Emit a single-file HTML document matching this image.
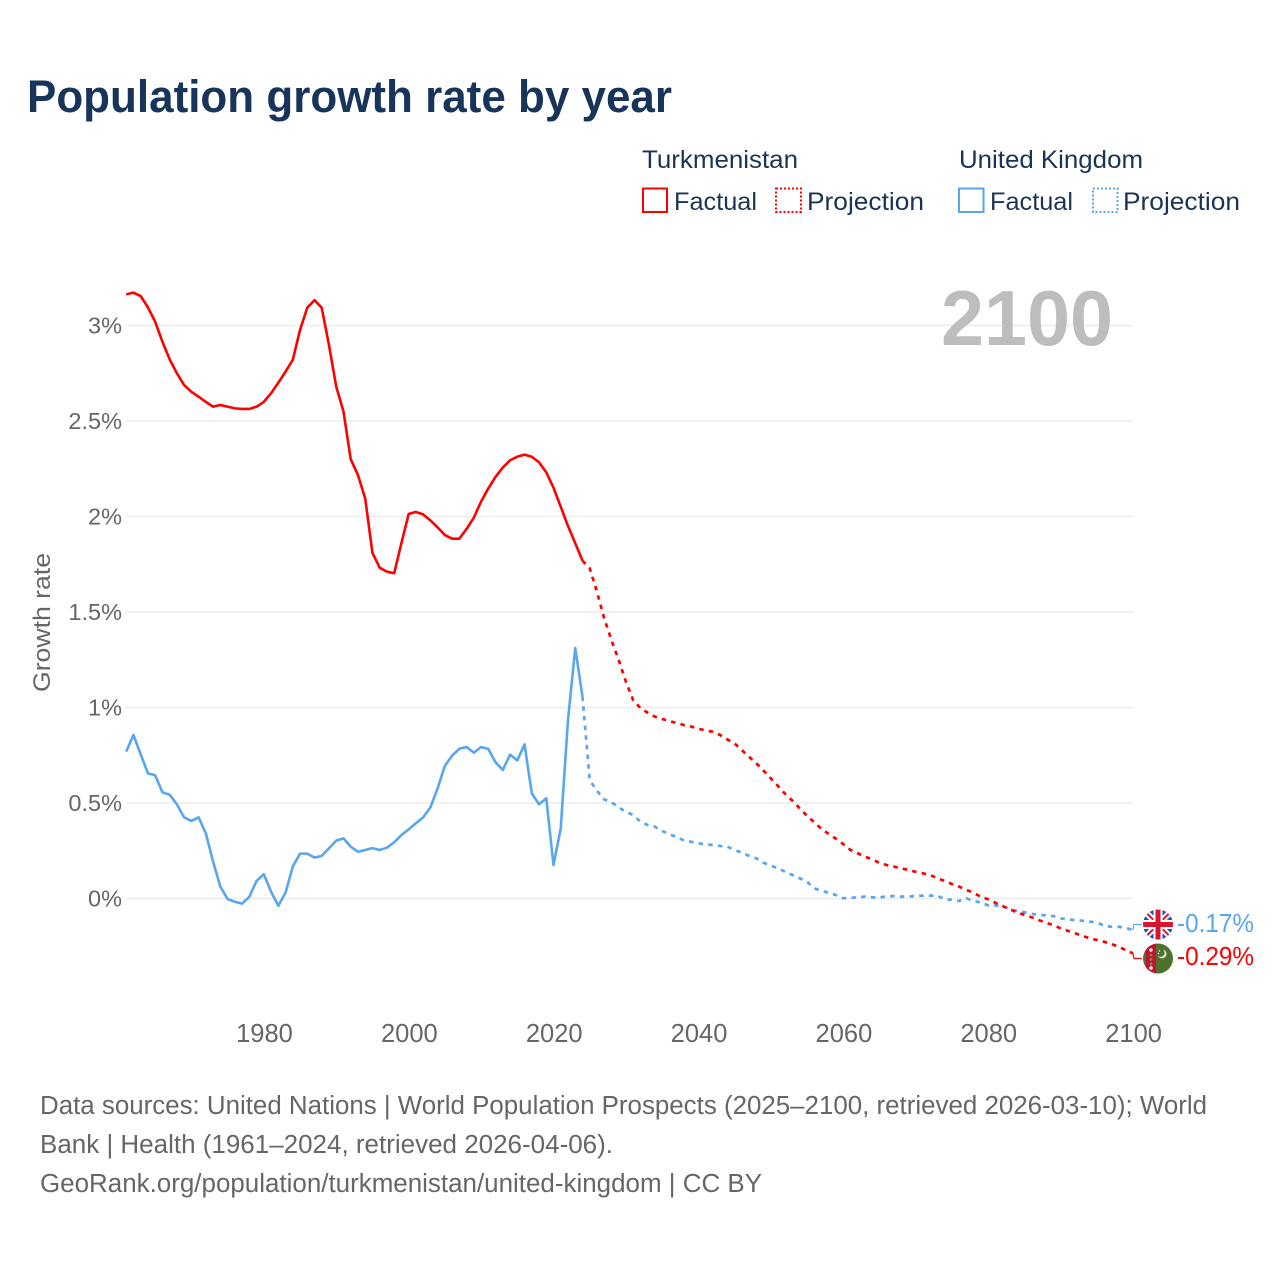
<!DOCTYPE html>
<html lang="en">
<head>
<meta charset="utf-8">
<title>Population growth rate by year</title>
<style>
html,body{margin:0;padding:0;background:#fff;}
svg{display:block;}
text{font-family:"Liberation Sans",sans-serif;}
</style>
</head>
<body>
<svg id="chart" xmlns="http://www.w3.org/2000/svg" width="1280" height="1280" viewBox="0 0 1280 1280">
  <defs>
    <clipPath id="flag-clip-uk"><circle cx="1158" cy="924.5" r="15"/></clipPath>
    <clipPath id="flag-clip-tm"><circle cx="1158" cy="958.5" r="15"/></clipPath>
  </defs>
  <rect x="0" y="0" width="1280" height="1280" fill="#fff"/>

  <text x="27" y="112" font-size="45" font-weight="700" fill="#17345a" textLength="645" lengthAdjust="spacingAndGlyphs">Population growth rate by year</text>

  <g font-size="25" fill="#1a3554">
    <text x="642" y="168" textLength="156" lengthAdjust="spacingAndGlyphs">Turkmenistan</text>
    <text x="959" y="168" textLength="184" lengthAdjust="spacingAndGlyphs">United Kingdom</text>
    <rect x="643" y="188.5" width="24" height="23.5" fill="none" stroke="#ff0000" stroke-width="2"/>
    <text x="674" y="210" textLength="83" lengthAdjust="spacingAndGlyphs">Factual</text>
    <rect x="776" y="188.5" width="25" height="23.5" fill="none" stroke="#ff0000" stroke-width="2" stroke-dasharray="2 2"/>
    <text x="807" y="210" textLength="117" lengthAdjust="spacingAndGlyphs">Projection</text>
    <rect x="959" y="188.5" width="24.5" height="23.5" fill="none" stroke="#5aa6ee" stroke-width="2"/>
    <text x="990" y="210" textLength="83" lengthAdjust="spacingAndGlyphs">Factual</text>
    <rect x="1093" y="188.5" width="24.5" height="23.5" fill="none" stroke="#5aa6ee" stroke-width="2" stroke-dasharray="2 2"/>
    <text x="1123" y="210" textLength="117" lengthAdjust="spacingAndGlyphs">Projection</text>
  </g>

  <g id="grid"></g>
  <g id="y-ticks"></g>
  <g id="x-ticks"></g>

  <text transform="translate(50,622.5) rotate(-90)" text-anchor="middle" font-size="24" fill="#666" textLength="139" lengthAdjust="spacingAndGlyphs">Growth rate</text>

  <text x="1113" y="345" text-anchor="end" font-size="78" font-weight="700" fill="#bdbdbd" textLength="172" lengthAdjust="spacingAndGlyphs">2100</text>

  <g id="series"></g>

  <g clip-path="url(#flag-clip-uk)">
    <rect x="1143" y="909.5" width="30" height="30" fill="#1457b0"/>
    <path d="M1143 909.5L1173 939.5M1173 909.5L1143 939.5" stroke="#fff" stroke-width="6"/>
    <path d="M1143 909.5L1173 939.5M1173 909.5L1143 939.5" stroke="#d8142e" stroke-width="2"/>
    <path d="M1158 909.5V939.5M1143 924.5H1173" stroke="#fff" stroke-width="9"/>
    <path d="M1158 909.5V939.5M1143 924.5H1173" stroke="#d8142e" stroke-width="5"/>
  </g>
  <g clip-path="url(#flag-clip-tm)">
    <rect x="1143" y="943.5" width="30" height="30" fill="#4f7130"/>
    <rect x="1146" y="943.5" width="10" height="30" fill="#c8102e"/>
    <circle cx="1151" cy="950" r="1.8" fill="#eee"/>
    <circle cx="1151" cy="955" r="1.5" fill="#6d8a4f"/>
    <circle cx="1151" cy="959.5" r="1.5" fill="#6d8a4f"/>
    <circle cx="1151" cy="964" r="1.5" fill="#6d8a4f"/>
    <circle cx="1151" cy="968" r="1.8" fill="#eee"/>
    <path d="M1163 949.5a4.5 4.5 0 1 1-5 6.5a4 4 0 0 0 5-6.5z" fill="#dfe6d6"/>
    <circle cx="1159.5" cy="951" r="0.8" fill="#eee"/>
    <circle cx="1158.5" cy="953.5" r="0.8" fill="#eee"/>
  </g>

  <text x="1177" y="932" font-size="25.5" fill="#5aa6ee" textLength="77" lengthAdjust="spacingAndGlyphs">-0.17%</text>
  <text x="1177" y="965" font-size="25.5" fill="#ff0000" textLength="77" lengthAdjust="spacingAndGlyphs">-0.29%</text>

  <g font-size="25.5" fill="#666">
    <text x="40" y="1114" textLength="1167" lengthAdjust="spacingAndGlyphs">Data sources: United Nations | World Population Prospects (2025–2100, retrieved 2026-03-10); World</text>
    <text x="40" y="1153" textLength="573" lengthAdjust="spacingAndGlyphs">Bank | Health (1961–2024, retrieved 2026-04-06).</text>
    <text x="40" y="1192" textLength="722" lengthAdjust="spacingAndGlyphs">GeoRank.org/population/turkmenistan/united-kingdom | CC BY</text>
  </g>
</svg>
<script>
const xTickYears = [1980, 2000, 2020, 2040, 2060, 2080, 2100];
const yTickValues = [0, 0.5, 1, 1.5, 2, 2.5, 3];
const yTickLabels = ["0%", "0.5%", "1%", "1.5%", "2%", "2.5%", "3%"];

const factualFirstYear = 1961;
const projectionFirstYear = 2024;

const turkmenistanFactual = [
  3.163,3.172,3.154,3.095,3.02,2.915,2.823,2.75,2.688,2.653,
  2.627,2.6,2.575,2.584,2.575,2.566,2.563,2.563,2.575,2.6,
  2.645,2.7,2.758,2.82,2.976,3.093,3.133,3.093,2.897,2.68,
  2.55,2.3,2.217,2.095,1.81,1.732,1.711,1.703,1.86,2.013,
  2.024,2.011,1.98,1.943,1.903,1.884,1.884,1.935,1.994,2.078,
  2.147,2.208,2.256,2.294,2.313,2.324,2.313,2.284,2.231,2.151,
  2.051,1.95,1.86,1.769
];
const turkmenistanProjection = [
  1.769,1.729,1.606,1.467,1.353,1.249,1.135,1.039,0.997,0.973,0.952,
  0.94,0.929,0.919,0.908,0.9,0.889,0.88,0.873,0.856,0.833,
  0.812,0.777,0.742,0.708,0.669,0.629,0.589,0.547,0.512,0.472,
  0.433,0.399,0.364,0.338,0.313,0.285,0.254,0.237,0.219,0.205,
  0.187,0.175,0.167,0.158,0.149,0.14,0.132,0.123,0.106,0.092,
  0.076,0.062,0.045,0.03,0.009,-0.004,-0.022,-0.039,-0.057,-0.072,
  -0.086,-0.098,-0.113,-0.127,-0.139,-0.156,-0.169,-0.182,-0.195,-0.208,
  -0.217,-0.226,-0.238,-0.252,-0.27,-0.287
];
const ukFactual = [
  0.769,0.856,0.755,0.655,0.645,0.556,0.543,0.493,0.425,0.406,
  0.425,0.341,0.193,0.062,-0.003,-0.017,-0.027,0.009,0.092,0.127,
  0.036,-0.038,0.03,0.167,0.235,0.235,0.214,0.223,0.263,0.303,
  0.315,0.271,0.245,0.254,0.264,0.254,0.266,0.294,0.332,0.362,
  0.394,0.425,0.477,0.577,0.695,0.748,0.784,0.793,0.763,0.793,
  0.783,0.713,0.673,0.753,0.723,0.807,0.551,0.493,0.525,0.175,
  0.367,0.935,1.311,1.057
];
const ukProjection = [
  1.057,0.62,0.564,0.519,0.504,0.477,0.454,0.437,0.402,0.385,0.376,
  0.353,0.338,0.32,0.305,0.297,0.289,0.284,0.28,0.275,0.271,
  0.254,0.24,0.223,0.21,0.187,0.172,0.158,0.14,0.123,0.106,
  0.088,0.053,0.041,0.03,0.018,0.001,0.004,0.006,0.01,0.006,
  0.006,0.01,0.013,0.01,0.01,0.013,0.015,0.015,0.015,-0.004,
  -0.007,-0.013,0.001,-0.013,-0.02,-0.036,-0.036,-0.039,-0.057,-0.065,
  -0.072,-0.08,-0.086,-0.088,-0.092,-0.104,-0.109,-0.113,-0.116,-0.121,
  -0.125,-0.142,-0.148,-0.148,-0.154,-0.165
];

const NS = 'http://www.w3.org/2000/svg';
const RED = '#ff0000';
const BLUE = '#5aa6ee';

function xScale(year) { return 263.8 + (year - 1980) * 7.2425; }
function yScale(value) { return 898.5 - value * 191; }

function linePath(values, firstYear) {
  return values.map(function (v, i) {
    return (i ? 'L' : 'M') + xScale(firstYear + i).toFixed(2) + ' ' + yScale(v).toFixed(2);
  }).join('');
}

const gridGroup = document.getElementById('grid');
const yTickGroup = document.getElementById('y-ticks');
const xTickGroup = document.getElementById('x-ticks');
const seriesGroup = document.getElementById('series');

yTickValues.forEach(function (v, i) {
  const line = document.createElementNS(NS, 'line');
  
  
  line.setAttribute('x1', 126);
  line.setAttribute('x2', 1133);
  line.setAttribute('y1', yScale(v));
  line.setAttribute('y2', yScale(v));
  line.setAttribute('stroke', '#ececec');
  line.setAttribute('stroke-width', 1.5);
  gridGroup.appendChild(line);

  const label = document.createElementNS(NS, 'text');
  
  
  label.setAttribute('x', 122);
  label.setAttribute('y', yScale(v) + 8);
  label.setAttribute('text-anchor', 'end');
  label.setAttribute('font-size', 23.5);
  label.setAttribute('fill', '#666');
  label.textContent = yTickLabels[i];
  yTickGroup.appendChild(label);
});

xTickYears.forEach(function (year) {
  const label = document.createElementNS(NS, 'text');
  
  
  label.setAttribute('x', xScale(year) + 0.7);
  label.setAttribute('y', 1042);
  label.setAttribute('text-anchor', 'middle');
  label.setAttribute('font-size', 25.5);
  label.setAttribute('fill', '#666');
  label.textContent = String(year);
  xTickGroup.appendChild(label);
});

function addProjection(values, color, name) {
  const p = document.createElementNS(NS, 'path');
  
  
  p.setAttribute('d', linePath(values, projectionFirstYear));
  p.setAttribute('fill', 'none');
  p.setAttribute('stroke', color);
  p.setAttribute('stroke-width', 2.7);
  p.setAttribute('stroke-dasharray', '4.5 5.2');
  seriesGroup.appendChild(p);
}
function addFactual(values, color, name) {
  const p = document.createElementNS(NS, 'path');
  
  
  p.setAttribute('d', linePath(values, factualFirstYear));
  p.setAttribute('fill', 'none');
  p.setAttribute('stroke', color);
  p.setAttribute('stroke-width', 2.6);
  p.setAttribute('stroke-linejoin', 'round');
  seriesGroup.appendChild(p);
}
function addConnector(lastValue, flagY, color, name) {
  const x = xScale(2100);
  const p = document.createElementNS(NS, 'path');
  
  
  p.setAttribute('d', 'M' + x + ' ' + yScale(lastValue) + 'L' + (x + 1) + ' ' + flagY + 'L' + (x + 9) + ' ' + flagY);
  p.setAttribute('fill', 'none');
  p.setAttribute('stroke', color);
  p.setAttribute('stroke-width', 1.2);
  seriesGroup.appendChild(p);
}

addProjection(ukProjection, BLUE, 'line-united-kingdom-projection');
addProjection(turkmenistanProjection, RED, 'line-turkmenistan-projection');
addFactual(ukFactual, BLUE, 'line-united-kingdom-factual');
addFactual(turkmenistanFactual, RED, 'line-turkmenistan-factual');
addConnector(ukProjection[ukProjection.length - 1], 924.5, BLUE, 'connector-united-kingdom');
addConnector(turkmenistanProjection[turkmenistanProjection.length - 1], 958.5, RED, 'connector-turkmenistan');
</script>
</body>
</html>
